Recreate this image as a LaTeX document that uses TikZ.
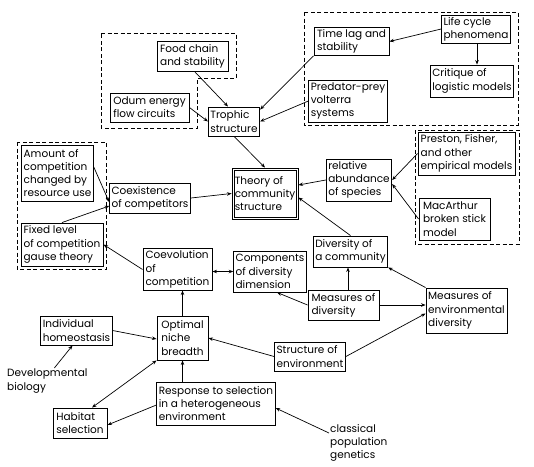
\documentclass[tikz,border=0pt]{standalone}
\usepackage{fontspec}
\setmainfont{Poppins}
\usetikzlibrary{arrows.meta}
\tikzset{
  bx/.style={draw, line width=0.9pt, inner sep=2pt, align=left, font=\fontsize{10.5}{13.2}\selectfont},
  grp/.style={draw, line width=0.8pt, dash pattern=on 4pt off 2.5pt},
  arr/.style={line width=0.7pt, -{Stealth[length=4.5pt,width=3.5pt]}},
  darr/.style={line width=0.7pt, {Stealth[length=4.5pt,width=3.5pt]}-{Stealth[length=4.5pt,width=3.5pt]}},
  lbl/.style={inner sep=1pt, align=left, font=\fontsize{10.5}{13.2}\selectfont},
}
\begin{document}
\begin{tikzpicture}[x=1pt,y=-1pt]
\useasboundingbox (0,0) rectangle (534,466);
% dashed groups
\draw[grp] (101,33) -- (236,33) -- (236,78) -- (197,78) -- (197,128) -- (101,128) -- cycle;
\draw[grp] (304,12) rectangle (518,125);
\draw[grp] (415,130) rectangle (519,244);
\draw[grp] (17,142) rectangle (106,269);
% boxes
\node[bx, minimum width=71pt, minimum height=30pt] (food) at (192.5,56) {Food chain\\and stability};
\node[bx, minimum width=79pt, minimum height=29pt] (odum) at (149.5,107.5) {Odum energy\\flow circuits};
\node[bx, minimum width=50pt, minimum height=29pt] (trophic) at (234,121.5) {Trophic\\structure};
\node[bx, minimum width=75pt, minimum height=27pt] (timelag) at (351.5,41.5) {Time lag and\\stability};
\node[bx, minimum width=64pt, minimum height=28pt] (life) at (476,29) {Life cycle\\phenomena};
\node[bx, minimum width=80pt, minimum height=32pt] (critique) at (472,81) {Critique of\\logistic models};
\node[bx, minimum width=78pt, minimum height=42pt] (pred) at (348,101) {Predator-prey\\volterra\\systems};
\node[bx, minimum width=71pt, minimum height=56pt] (amount) at (57.5,173) {Amount of\\competition\\changed by\\resource use};
\node[bx, minimum width=80pt, minimum height=30pt] (coex) at (150,198) {Coexistence\\of competitors};
\node[bx, minimum width=82pt, minimum height=43pt] (fixed) at (62,244.5) {Fixed level\\of competition\\gause theory};
\node[bx, minimum width=66pt, minimum height=51pt] (theory) at (265,193.5) {Theory of\\community\\structure};
\draw[line width=0.8pt] ([shift={(2.5pt,-2.5pt)}]theory.north west) rectangle ([shift={(-2.5pt,2.5pt)}]theory.south east);
\node[bx, minimum width=62pt, minimum height=42pt] (relab) at (359,180) {relative\\abundance\\of species};
\node[bx, minimum width=97pt, minimum height=43pt] (preston) at (466.5,153.5) {Preston, Fisher,\\and other\\empirical models};
\node[bx, minimum width=71pt, minimum height=42pt] (macarthur) at (454.5,219) {MacArthur\\broken stick\\model};
\node[bx, minimum width=71pt, minimum height=31pt] (divcomm) at (350.5,251.5) {Diversity of\\a community};
\node[bx, minimum width=69pt, minimum height=41pt] (coevol) at (177.5,269.5) {Coevolution\\of\\competition};
\node[bx, minimum width=72pt, minimum height=41pt] (comps) at (270,271.5) {Components\\of diversity\\dimension};
\node[bx, minimum width=71pt, minimum height=30pt] (measdiv) at (343.5,305) {Measures of\\diversity};
\node[bx, minimum width=81pt, minimum height=45pt] (measenv) at (466.5,310.5) {Measures of\\environmental\\diversity};
\node[bx, minimum width=70pt, minimum height=29pt] (struct) at (310,356.5) {Structure of\\environment};
\node[bx, minimum width=69pt, minimum height=29pt] (indiv) at (76.5,330.5) {Individual\\homeostasis};
\node[bx, minimum width=51pt, minimum height=44pt] (optimal) at (182.5,338) {Optimal\\niche\\breadth};
\node[bx, minimum width=118pt, minimum height=43pt] (response) at (216,403.5) {Response to selection\\in a heterogeneous\\environment};
\node[bx, minimum width=54pt, minimum height=30pt] (habitat) at (80,423) {Habitat\\selection};
\node[lbl, anchor=north west] (devbio) at (6,368) {Developmental\\biology};
\node[lbl, anchor=north west] (classical) at (329,423) {classical\\population\\genetics};
% connectors
\draw[arr] ([xshift=2pt]food.south) -- ([xshift=-6pt]trophic.north);
\draw[arr] (odum.east) -- (trophic.west);
\draw[arr] (timelag.south west) -- ([yshift=-3pt]trophic.north east);
\draw[arr] (pred.west) -- (trophic.east);
\draw[arr] (life.west) -- (timelag.east);
\draw[arr] ([xshift=1pt]life.south) -- ([xshift=5pt]critique.north);
\draw[arr] (trophic.south) -- (theory.north);
\draw[arr] (relab.west) -- ([yshift=8.5pt]theory.east);
\draw[arr] (preston.west) -- (relab.east);
\draw[arr] (macarthur.west) -- ([yshift=-4pt]relab.east);
\draw[arr] (divcomm.north) -- ([yshift=-4pt]theory.east);
\draw[arr] (coex.east) -- (theory.west);
\draw[arr] ([yshift=6pt]amount.east) -- ([yshift=-4pt]coex.west);
\draw[arr] (fixed.north) -- ([yshift=-8pt]coex.west);
\draw[arr] (coevol.west) -- (fixed.east);
\draw[darr] ([yshift=-2pt]coevol.east) -- (comps.west);
\draw[arr] (optimal.north) -- (optimal.north |- coevol.south);
\draw[arr] (measdiv.west) -- ([xshift=7pt]comps.south);
\draw[arr] ([xshift=4.5pt]measdiv.north) -- ([xshift=4.5pt]measdiv.north |- divcomm.south);
\draw[arr] (measenv.north west) -- (divcomm.south east);
\draw[arr] (measdiv.east) -- (measdiv.east -| measenv.west);
\draw[arr] (struct.east) -- ([yshift=-3pt]measenv.west);
\draw[arr] (struct.west) -- (optimal.east);
\draw[arr] (indiv.east) -- ([yshift=-1pt]optimal.west);
\draw[arr] ([xshift=7pt]devbio.north) -- ([xshift=-4pt]indiv.south);
\draw[darr] (optimal.south west) -- ([xshift=12pt]habitat.north);
\draw[arr] (optimal.south |- response.north) -- (optimal.south);
\draw[arr] ([yshift=-1.5pt]response.west) -- ([yshift=-2pt]habitat.east);
\draw[arr] ([yshift=-10pt]classical.north west) -- ([yshift=-4.5pt]response.east);
\end{tikzpicture}
\end{document}
